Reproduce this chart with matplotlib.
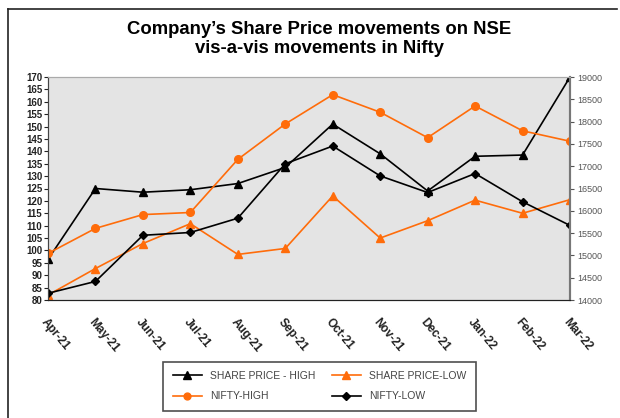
import matplotlib.pyplot as plt
import numpy as np

plt.rcParams['font.family'] = ['Liberation Sans', 'DejaVu Sans']

months = ['Apr-21', 'May-21', 'Jun-21', 'Jul-21', 'Aug-21', 'Sep-21',
          'Oct-21', 'Nov-21', 'Dec-21', 'Jan-22', 'Feb-22', 'Mar-22']
sp_high = [96.4, 125, 123.5, 124.5, 127, 133.5, 151, 139, 124, 138, 138.5, 170]
sp_low = [82, 92.7, 102.8, 110.8, 98.4, 100.8, 122, 105, 112, 120.3, 115, 120.5]
nifty_high = [15044, 15606, 15915, 15962, 17153, 17947, 18604, 18210, 17640, 18350, 17794, 17559]
nifty_low = [14151, 14416, 15451, 15514, 15834, 17055, 17452, 16782, 16410, 16836, 16203, 15671]

orange = '#ff6c0a'
x = np.arange(len(months))

fig = plt.figure(figsize=(6.2, 4.18), dpi=100)
# outer frame lines (left and top)
fig.add_artist(plt.Line2D([8/620, 8/620], [0, 1 - 9/418], color='#222222', lw=1.2))
fig.add_artist(plt.Line2D([8/620, 617/620], [1 - 9/418, 1 - 9/418], color='#222222', lw=1.2))

ax = fig.add_axes([48/620, 1 - 300/418, 522/620, 223/418])
ax2 = ax.twinx()
ax.set_facecolor('#e4e4e4')

ax.plot(x, sp_high, color='black', lw=1.2, marker='^', ms=6, label='SHARE PRICE - HIGH')
ax.plot(x, sp_low, color=orange, lw=1.2, marker='^', ms=6, label='SHARE PRICE-LOW')
ax2.plot(x, nifty_high, color=orange, lw=1.2, marker='o', ms=5.5, label='NIFTY-HIGH')
ax2.plot(x, nifty_low, color='black', lw=1.2, marker='D', ms=4.5, label='NIFTY-LOW')

ax.set_xlim(0, 11)
ax.set_ylim(80, 170)
ax.set_yticks(np.arange(80, 171, 5))
ax2.set_ylim(14000, 19000)
ax2.set_yticks(np.arange(14000, 19001, 500))

ax.set_xticks(x)
ax.set_xticklabels(months, rotation=-50, ha='left', va='top', rotation_mode='anchor',
                   fontsize=8.5, fontweight='bold', color='#222222')
ax.tick_params(axis='x', length=0, pad=12)
ax.tick_params(axis='y', labelsize=7, length=3, pad=1, colors='#222222')
for t in ax.get_yticklabels():
    t.set_fontweight('bold')
ax2.tick_params(axis='y', labelsize=6.5, length=3, pad=2, colors='#555555')

for a in (ax, ax2):
    a.spines['top'].set_color('#aaaaaa')
    a.spines['left'].set_color('#444444')
    a.spines['bottom'].set_color('#222222')
    a.spines['right'].set_color('#777777')
    a.spines['right'].set_linewidth(1.5)

fig.text(319/620, 1 - 39/418, 'Company\u2019s Share Price movements on NSE\nvis-a-vis movements in Nifty',
         ha='center', va='center', fontsize=13.3, fontweight='bold', linespacing=1.15)

h1, l1 = ax.get_legend_handles_labels()
h2, l2 = ax2.get_legend_handles_labels()
handles = [h1[0], h2[0], h1[1], h2[1]]
labels = [l1[0], l2[0], l1[1], l2[1]]
leg = fig.legend(handles, labels, ncol=2, loc='lower left',
                 bbox_to_anchor=(158/620, 2/418, 323/620, 59/418), mode='expand',
                 fontsize=7.5, frameon=True, fancybox=False, edgecolor='#222222',
                 handlelength=2.8, columnspacing=2, labelspacing=1.0, borderpad=0.9,
                 markerscale=0.9)
leg.get_frame().set_linewidth(1.2)
for t in leg.get_texts():
    t.set_color('#444444')

fig.savefig('out.png', dpi=100)
